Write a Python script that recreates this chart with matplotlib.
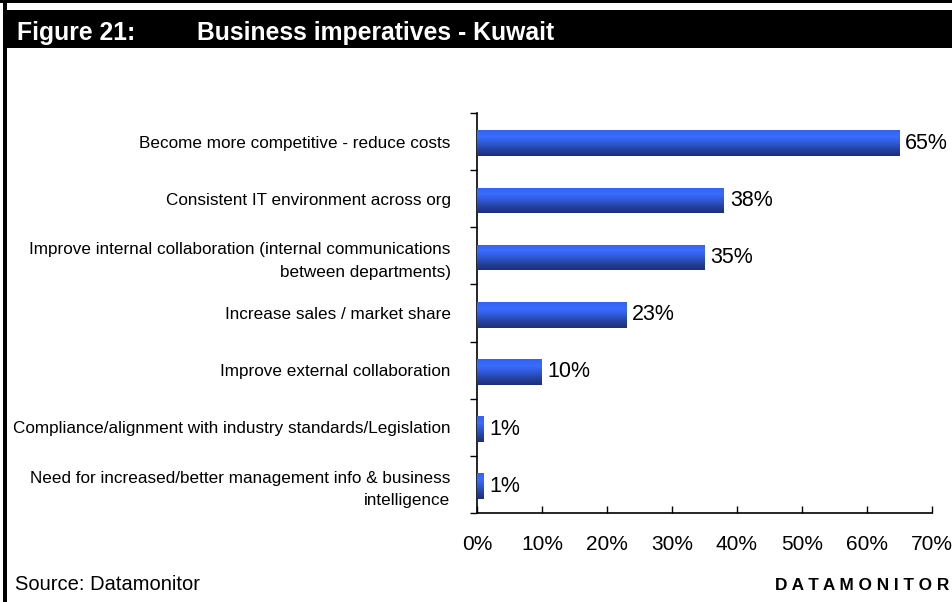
import numpy as np
import matplotlib
matplotlib.use('Agg')
from matplotlib import pyplot as plt
from matplotlib.colors import LinearSegmentedColormap

plt.rcParams['font.family'] = ['Liberation Sans', 'DejaVu Sans']

categories = [
    'Become more competitive - reduce costs',
    'Consistent IT environment across org',
    'Improve internal collaboration (internal communications\nbetween departments)',
    'Increase sales / market share',
    'Improve external collaboration',
    'Compliance/alignment with industry standards/Legislation',
    'Need for increased/better management info & business\nintelligence',
]
values = [65, 38, 35, 23, 10, 1, 1]
xticks = [0, 10, 20, 30, 40, 50, 60, 70]

fig = plt.figure(figsize=(9.53, 6.02), dpi=100)
W, H = 953.0, 602.0

# frame lines and black title bar
fig.add_artist(plt.Rectangle((0, 1 - 3 / H), 1, 3 / H, transform=fig.transFigure,
                             color='black', lw=0))
fig.add_artist(plt.Rectangle((3 / W, 0), 4 / W, 1, transform=fig.transFigure,
                             color='black', lw=0))
fig.add_artist(plt.Rectangle((7 / W, 1 - 48 / H), 1, 38 / H, transform=fig.transFigure,
                             color='black', lw=0))
fig.text(17 / W, 1 - 40 / H, 'Figure 21:', color='white', fontsize=17.8,
         fontweight='bold', va='baseline', ha='left')
fig.text(197 / W, 1 - 40 / H, 'Business imperatives - Kuwait', color='white',
         fontsize=17.8, fontweight='bold', va='baseline', ha='left')

ax = fig.add_axes([477 / W, 1 - 513 / H, (932 - 477) / W, 400 / H])

n = len(categories)
ypos = np.arange(n)
bar_h = 0.45
bars = ax.barh(ypos + 0.03, values, height=bar_h, color='#2a4fd0', zorder=2)

# vertical blue gradient on each bar
cmap = LinearSegmentedColormap.from_list(
    'bar', ['#1c2f7c', '#24429e', '#2f5ad8', '#3a6cff', '#3363f0'])
grad = np.linspace(0, 1, 64).reshape(-1, 1)
for b in bars:
    x0, y0 = b.get_x(), b.get_y()
    w, h = b.get_width(), b.get_height()
    im = ax.imshow(grad, cmap=cmap, aspect='auto', origin='upper',
                   extent=[x0, x0 + w, y0, y0 + h], zorder=3)
    im.set_clip_path(b)

for y, v in zip(ypos, values):
    ax.text(v + 0.9, y + 0.03, '%d%%' % v, va='center', ha='left', fontsize=15.5,
            clip_on=False)

ax.set_xlim(0, 70)
ax.set_ylim(n - 0.5, -0.5)
ax.set_xticks(xticks)
ax.set_xticklabels(['%d%%' % t for t in xticks], fontsize=15)
ax.tick_params(axis='x', direction='in', length=5, pad=16, width=1)

ax.set_yticks(ypos)
ax.set_yticklabels(categories, fontsize=12.3, linespacing=1.6)
ax.tick_params(axis='y', length=0, pad=19)
ax.set_yticks(np.arange(n + 1) - 0.5, minor=True)
ax.tick_params(axis='y', which='minor', direction='out', length=5, width=1)

for s in ['top', 'right']:
    ax.spines[s].set_visible(False)
for s in ['left', 'bottom']:
    ax.spines[s].set_linewidth(1.2)

fig.text(15 / W, 1 - 585 / H, 'Source: Datamonitor', fontsize=14.5, va='center',
         ha='left')
fig.text(775 / W, 1 - 586 / H, 'D A T A M O N I T O R', fontsize=12.4,
         fontweight='bold', va='center', ha='left')

fig.savefig('out.png', dpi=100)
